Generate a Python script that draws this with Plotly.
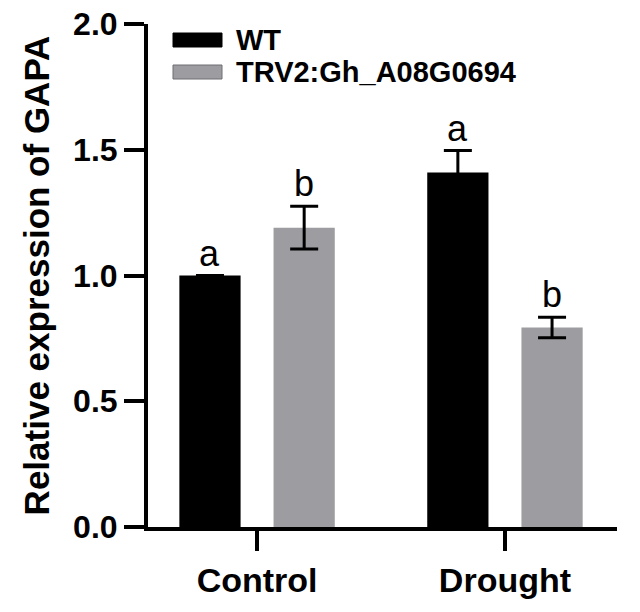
import plotly.graph_objects as go

# ---- data ----
categories = ["Control", "Drought"]
series_names = ["WT", "TRV2:Gh_A08G0694"]
wt_values = [1.00, 1.41]
wt_errors = [0.0, 0.087]
trv_values = [1.19, 0.793]
trv_errors = [0.085, 0.041]
wt_letters = ["a", "a"]
trv_letters = ["b", "b"]
y_ticks = [0.0, 0.5, 1.0, 1.5, 2.0]

# ---- layout constants (pixels) ----
W, H = 640, 612
ML, MR, MT, MB = 148, 23, 24, 85
PW, PH = W - ML - MR, H - MT - MB
FONT = "Liberation Sans, Arial, sans-serif"
BLACK = "#000000"
GRAY = "#9d9ca1"


def px_x(px):
    return (px - ML) / PW


def px_y(py):
    return (H - MB - py) / PH


fig = go.Figure()
fig.add_trace(go.Bar(
    x=categories, y=wt_values, name=series_names[0],
    marker=dict(color=BLACK, line=dict(width=0)),
    error_y=dict(type="data", array=wt_errors, color=BLACK, thickness=3, width=14),
    showlegend=False,
))
fig.add_trace(go.Bar(
    x=categories, y=trv_values, name=series_names[1],
    marker=dict(color=GRAY, line=dict(width=0)),
    error_y=dict(type="data", array=trv_errors, color=BLACK, thickness=3, width=14),
    showlegend=False,
))

# significance letters
offset = 0.19
for i, cat in enumerate(categories):
    for vals, errs, letters, dx in ((wt_values, wt_errors, wt_letters, -offset),
                                    (trv_values, trv_errors, trv_letters, offset)):
        fig.add_annotation(
            x=i + dx, y=vals[i] + errs[i] + 0.0, xref="x", yref="y",
            text=letters[i], showarrow=False, yanchor="bottom", xanchor="center",
            font=dict(family=FONT, size=36, color=BLACK),
        )

# manual legend (wide swatches like the reference)
legend_rows = [(series_names[0], BLACK, 40), (series_names[1], GRAY, 72)]
for name, color, cy in legend_rows:
    fig.add_shape(
        type="rect", xref="paper", yref="paper",
        x0=px_x(173), x1=px_x(222), y0=px_y(cy - 7), y1=px_y(cy + 7),
        fillcolor=color, line=dict(color="#6f6e73" if color != BLACK else BLACK, width=1),
    )
    fig.add_annotation(
        x=px_x(234), y=px_y(cy), xref="paper", yref="paper",
        text=name, showarrow=False, xanchor="left", yanchor="middle",
        font=dict(family=FONT, size=29, color=BLACK, weight="bold"),
    )

axis_common = dict(
    showline=True, linecolor=BLACK, linewidth=4,
    ticks="outside", ticklen=20, tickwidth=4, tickcolor=BLACK,
    showgrid=False, zeroline=False,
)
fig.update_xaxes(
    **axis_common, range=[-0.44, 1.452],
    tickfont=dict(family=FONT, size=34, color=BLACK, weight="bold"),
)
fig.update_yaxes(
    **axis_common, range=[0, 2.0], tickvals=y_ticks, tickformat=".1f",
    tickfont=dict(family=FONT, size=32, color=BLACK, weight="bold"),
    title=dict(text="Relative expression of GAPA", standoff=14,
               font=dict(family=FONT, size=35, color=BLACK, weight="bold")),
)
fig.update_layout(
    width=W, height=H,
    margin=dict(l=ML, r=MR, t=MT, b=MB, autoexpand=False),
    barmode="group", bargap=0.24, bargroupgap=0.35,
    plot_bgcolor="white", paper_bgcolor="white",
    showlegend=False,
)
fig.write_html("out.html")
